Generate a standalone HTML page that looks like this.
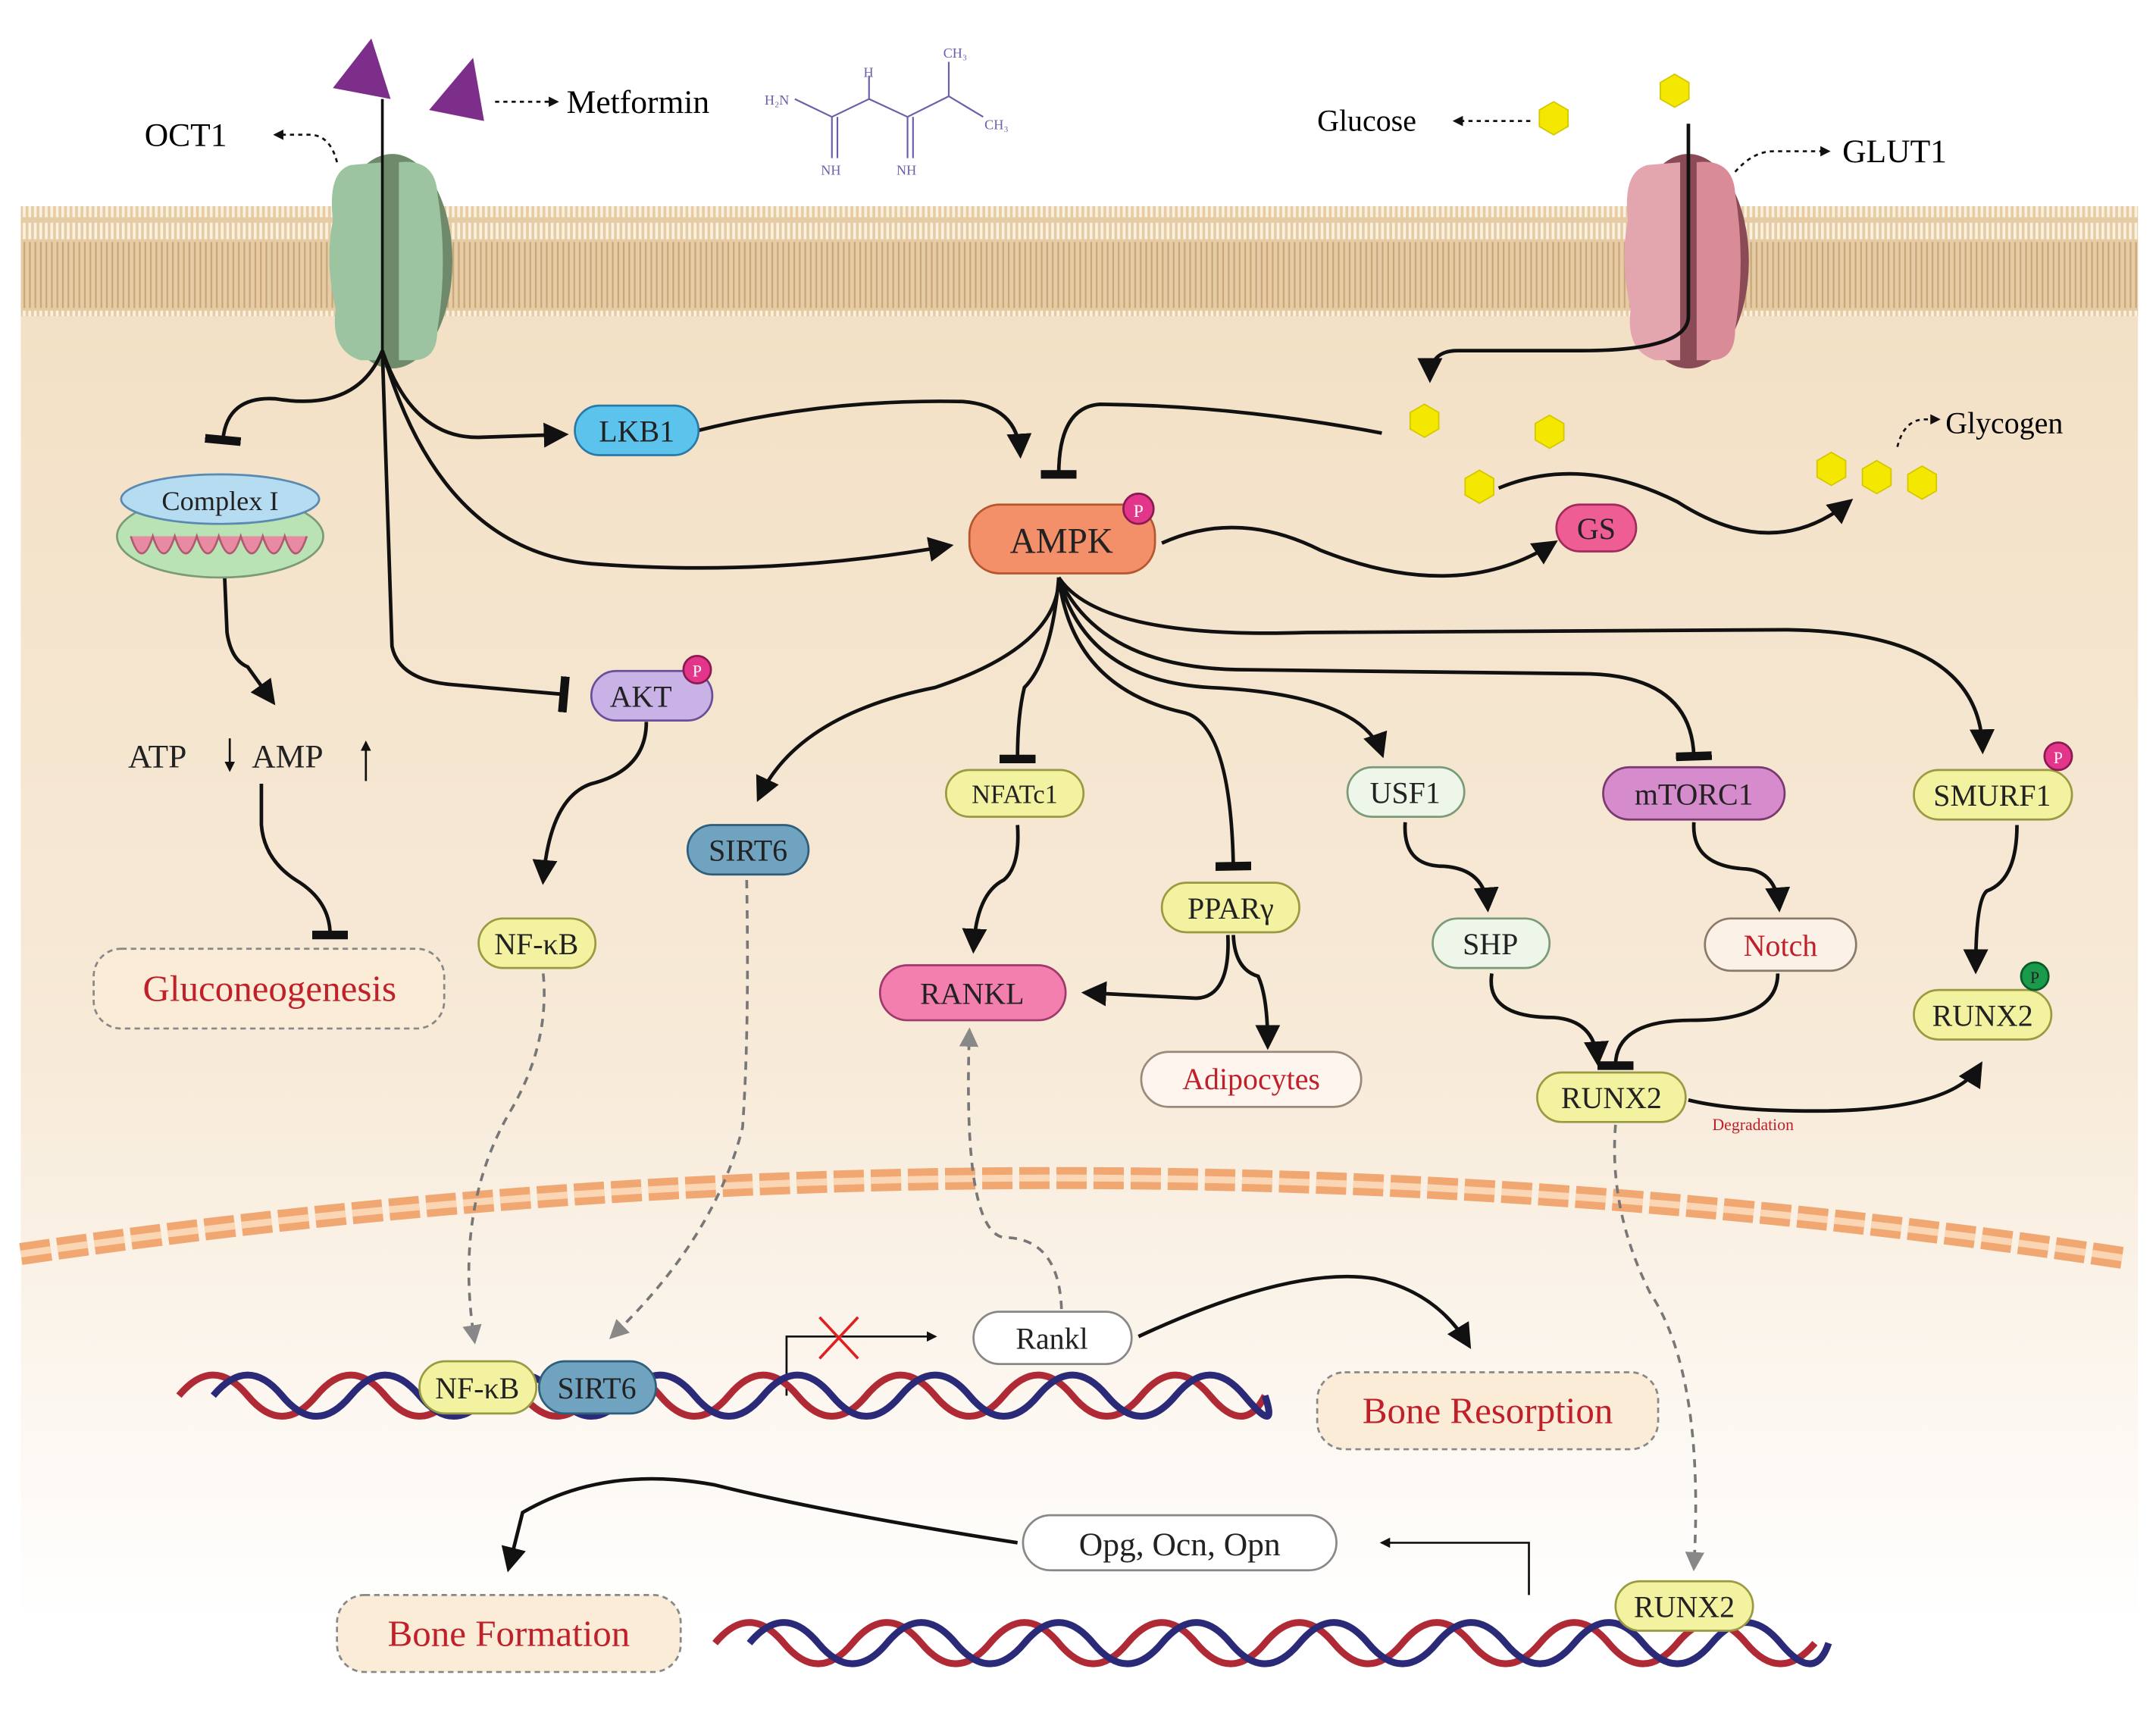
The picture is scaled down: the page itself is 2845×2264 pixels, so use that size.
<!DOCTYPE html>
<html><head><meta charset="utf-8"><style>
html,body{margin:0;padding:0;background:#fff}
svg{display:block}
text{font-family:"Liberation Serif",serif;}
</style></head><body>
<svg width="2845" height="2264" viewBox="0 0 1568 1248" xmlns="http://www.w3.org/2000/svg">
<defs>
<linearGradient id="cell" x1="0" y1="0" x2="0" y2="1">
<stop offset="0" stop-color="#f2dfc3"/><stop offset="0.6" stop-color="#f7ead8"/><stop offset="1" stop-color="#ffffff"/>
</linearGradient>
<pattern id="lip" width="4" height="80" patternUnits="userSpaceOnUse">
<rect width="4" height="80" fill="#e6cca4"/>
<rect x="0.5" y="2" width="2" height="12" fill="#fbf1e0"/>
<rect x="0.5" y="66" width="2" height="12" fill="#fbf1e0"/>
<rect x="1" y="16" width="1.2" height="48" fill="#c9a678"/>
</pattern>
<marker id="ar" viewBox="0 0 10 10" refX="8" refY="5" markerWidth="7" markerHeight="7" orient="auto"><path d="M0,0L10,5L0,10z" fill="#111"/></marker>
<marker id="ag" viewBox="0 0 10 10" refX="8" refY="5" markerWidth="7" markerHeight="7" orient="auto"><path d="M0,0L10,5L0,10z" fill="#888"/></marker>
<marker id="sm" viewBox="0 0 10 10" refX="8" refY="5" markerWidth="5" markerHeight="5" orient="auto"><path d="M0,0L10,5L0,10z" fill="#111"/></marker>
<marker id="tb" viewBox="0 0 10 10" refX="5" refY="5" markerWidth="10" markerHeight="10" orient="auto"><path d="M5,-3L5,13" stroke="#111" stroke-width="2.4"/></marker>
<polygon id="hx" points="0,-12 10.4,-6 10.4,6 0,12 -10.4,6 -10.4,-6" fill="#f5e800" stroke="#d4c800" stroke-width="1"/>
</defs>
<rect width="1568" height="1248" fill="#fff"/>
<rect x="15" y="150" width="1540" height="1030" fill="url(#cell)"/>
<rect x="15" y="150" width="1540" height="80" fill="url(#lip)"/>
<path d="M15,912 Q780,800 1545,915" fill="none" stroke="#f0a772" stroke-width="16" stroke-dasharray="22,5"/>
<path d="M15,912 Q780,800 1545,915" fill="none" stroke="#fbd6b4" stroke-width="5" stroke-dasharray="22,5"/>

<!-- OCT1 -->
<ellipse cx="285" cy="190" rx="44" ry="78" fill="#6f8a6a"/>
<path d="M255,120 Q238,125 242,160 Q236,190 244,225 Q240,255 262,262 L278,262 L278,118z" fill="#9cc4a0"/>
<path d="M290,118 Q316,115 318,140 Q326,190 318,240 Q318,262 300,262 L290,262z" fill="#9cc4a0"/>
<!-- GLUT1 -->
<ellipse cx="1228" cy="190" rx="44" ry="78" fill="#8a4a56"/>
<path d="M1198,120 Q1180,125 1184,160 Q1178,190 1186,225 Q1182,255 1204,262 L1222,262 L1222,118z" fill="#e3a5ae"/>
<path d="M1234,118 Q1260,115 1262,140 Q1270,190 1262,240 Q1262,262 1244,262 L1234,262z" fill="#d98c98"/>

<polygon points="270,28 242,64 284,72" fill="#7d2d8a"/>
<polygon points="344,42 312,80 352,88" fill="#7d2d8a"/>
<line x1="360" y1="74" x2="405" y2="74" stroke="#111" stroke-width="1.5" stroke-dasharray="3,3" marker-end="url(#sm)"/>
<text x="412" y="82" font-size="24">Metformin</text>
<g stroke="#6a5fa8" stroke-width="1.2" fill="none">
<path d="M578,72 L605,85 L632,72 L660,85 L690,70 L715,85"/><path d="M605,85 V115 M609,85 V115 M660,85 V115 M664,85 V115 M632,72 V55 M690,70 V45"/>
</g>
<g font-size="10" fill="#6a5fa8"><text x="556" y="76">H₂N</text><text x="597" y="127">NH</text><text x="652" y="127">NH</text><text x="628" y="56">H</text><text x="686" y="42">CH₃</text><text x="716" y="94">CH₃</text></g>
<text x="105" y="106" font-size="24">OCT1</text>
<path d="M245,118 Q240,98 225,98 L200,98" fill="none" stroke="#111" stroke-width="1.5" stroke-dasharray="3,3" marker-end="url(#sm)"/>
<line x1="278" y1="72" x2="278" y2="260" stroke="#111" stroke-width="2"/>

<use href="#hx" x="1130" y="86"/><use href="#hx" x="1218" y="66"/>
<use href="#hx" x="1036" y="306"/><use href="#hx" x="1127" y="314"/><use href="#hx" x="1076" y="354"/>
<use href="#hx" x="1332" y="341"/><use href="#hx" x="1365" y="347"/><use href="#hx" x="1398" y="351"/>
<text x="958" y="95" font-size="22">Glucose</text>
<line x1="1113" y1="88" x2="1058" y2="88" stroke="#111" stroke-width="1.5" stroke-dasharray="3,3" marker-end="url(#sm)"/>
<text x="1340" y="118" font-size="24">GLUT1</text>
<path d="M1262,125 Q1275,110 1290,110 L1330,110" fill="none" stroke="#111" stroke-width="1.5" stroke-dasharray="3,3" marker-end="url(#sm)"/>
<text x="1415" y="315" font-size="22">Glycogen</text>
<path d="M1380,325 Q1385,305 1400,305 L1410,305" fill="none" stroke="#111" stroke-width="1.5" stroke-dasharray="3,3" marker-end="url(#sm)"/>

<g fill="none" stroke="#111" stroke-width="2.6">
<path d="M1228,90 L1228,230 Q1228,255 1150,255 L1060,255 Q1040,255 1040,275" marker-end="url(#ar)"/>
<path d="M278,255 Q260,300 200,290 Q165,288 162,320" marker-end="url(#tb)"/>
<path d="M278,255 Q300,320 350,318 L410,316" marker-end="url(#ar)"/>
<path d="M278,255 Q320,400 430,410 Q560,420 690,397" marker-end="url(#ar)"/>
<path d="M278,255 L285,470 Q290,495 330,498 L410,505" marker-end="url(#tb)"/>
<path d="M508,313 Q600,290 700,292 Q740,295 742,330" marker-end="url(#ar)"/>
<path d="M1005,315 Q900,295 800,294 Q770,296 770,345" marker-end="url(#tb)"/>
<path d="M845,395 Q900,370 960,400 Q1060,440 1130,395" marker-end="url(#ar)"/>
<path d="M1090,355 Q1150,330 1220,365 Q1290,410 1345,365" marker-end="url(#ar)"/>
<path d="M162,390 L165,460 Q168,480 180,485 L198,510" marker-end="url(#ar)"/>
<path d="M190,570 L190,600 Q192,625 215,640 Q240,655 240,680" marker-end="url(#tb)"/>
<path d="M470,525 Q470,560 430,570 Q400,580 395,640" marker-end="url(#ar)"/>
<path d="M770,420 Q770,470 680,500 Q580,520 552,580" marker-end="url(#ar)"/>
<path d="M770,420 Q765,480 745,500 Q740,520 740,552" marker-end="url(#tb)"/>
<path d="M770,420 Q780,500 860,518 Q895,525 897,630" marker-end="url(#tb)"/>
<path d="M770,420 Q790,495 880,500 Q990,505 1005,548" marker-end="url(#ar)"/>
<path d="M770,420 Q800,485 900,487 L1150,490 Q1230,490 1232,550" marker-end="url(#tb)"/>
<path d="M770,420 Q800,465 950,460 L1300,458 Q1440,460 1442,545" marker-end="url(#ar)"/>
<path d="M740,600 Q742,630 730,640 Q710,650 708,690" marker-end="url(#ar)"/>
<path d="M893,680 Q895,725 870,726 L790,722" marker-end="url(#ar)"/>
<path d="M897,680 Q898,705 915,710 Q922,725 922,760" marker-end="url(#ar)"/>
<path d="M1022,598 Q1020,630 1050,630 Q1080,632 1082,660" marker-end="url(#ar)"/>
<path d="M1085,708 Q1080,740 1130,740 Q1160,742 1162,772" marker-end="url(#ar)"/>
<path d="M1232,598 Q1230,630 1270,632 Q1292,634 1294,660" marker-end="url(#ar)"/>
<path d="M1293,708 Q1293,742 1230,742 Q1175,742 1175,775" marker-end="url(#tb)"/>
<path d="M1467,600 Q1467,640 1445,648 Q1437,655 1437,705" marker-end="url(#ar)"/>
<path d="M1228,800 Q1260,808 1320,808 Q1420,808 1440,775" marker-end="url(#ar)"/>
<path d="M828,972 Q940,920 1000,930 Q1045,940 1068,978" marker-end="url(#ar)"/>
<path d="M740,1122 Q600,1100 520,1080 Q440,1065 380,1100 L370,1140" marker-end="url(#ar)"/>
</g>
<g fill="none" stroke="#111" stroke-width="1.5">
<path d="M1112,1160 L1112,1122 L1005,1122" marker-end="url(#sm)"/>
<path d="M572,1015 L572,972 L680,972" marker-end="url(#sm)"/>
</g>
<path d="M596,958 L624,988 M624,958 L596,988" stroke="#e02020" stroke-width="2"/>

<g fill="none" stroke="#777" stroke-width="2" stroke-dasharray="6,5">
<path d="M395,708 Q400,760 370,810 Q330,880 345,975" marker-end="url(#ag)"/>
<path d="M543,640 Q545,750 540,820 Q520,900 445,972" marker-end="url(#ag)"/>
<path d="M772,952 Q770,900 730,900 Q700,895 705,750" marker-end="url(#ag)"/>
<path d="M1175,818 Q1170,880 1200,940 Q1240,1000 1232,1140" marker-end="url(#ag)"/>
</g>

<g fill="none" stroke-width="5">
<path d="M130,1015 q25,-30 50,0 t50,0 t50,0 t50,0 t50,0 t50,0 t50,0 t50,0 t50,0 t50,0 t50,0 t50,0 t50,0 t50,0 t50,0 t40,0" stroke="#b02a36"/>
<path d="M155,1015 q25,-30 50,0 t50,0 t50,0 t50,0 t50,0 t50,0 t50,0 t50,0 t50,0 t50,0 t50,0 t50,0 t50,0 t50,0 t50,0 t15,0" stroke="#2a2a78"/>
<path d="M520,1195 q25,-30 50,0 t50,0 t50,0 t50,0 t50,0 t50,0 t50,0 t50,0 t50,0 t50,0 t50,0 t50,0 t50,0 t50,0 t50,0 t50,0" stroke="#b02a36"/>
<path d="M545,1195 q25,-30 50,0 t50,0 t50,0 t50,0 t50,0 t50,0 t50,0 t50,0 t50,0 t50,0 t50,0 t50,0 t50,0 t50,0 t50,0 t35,0" stroke="#2a2a78"/>
</g>

<g stroke-width="1.5">
<ellipse cx="160" cy="390" rx="75" ry="30" fill="#b9e3b5" stroke="#7a9a78"/>
<path d="M95,390 q8,25 16,0 q8,25 16,0 q8,25 16,0 q8,25 16,0 q8,25 16,0 q8,25 16,0 q8,25 16,0 q8,25 16,0" fill="#e88aa2" stroke="#b05a70"/>
<ellipse cx="160" cy="363" rx="72" ry="18" fill="#b6dcf2" stroke="#5a8ab0"/>
<rect x="418" y="295" width="90" height="36" rx="18" fill="#5cc3ec" stroke="#2a7aa8"/>
<rect x="705" y="367" width="135" height="50" rx="22" fill="#f3906a" stroke="#b4562e"/>
<circle cx="828" cy="370" r="11" fill="#e3358a" stroke="#8a1a50"/>
<rect x="1132" y="367" width="58" height="34" rx="17" fill="#ef5d95" stroke="#a02a5a"/>
<rect x="430" y="488" width="88" height="36" rx="18" fill="#c8b2e6" stroke="#6a4e98"/>
<circle cx="507" cy="487" r="10" fill="#e3358a" stroke="#8a1a50"/>
<rect x="500" y="600" width="88" height="36" rx="18" fill="#6fa3c0" stroke="#2e5e7a"/>
<rect x="688" y="560" width="100" height="34" rx="17" fill="#f3f2a0" stroke="#9a9a40"/>
<rect x="845" y="642" width="100" height="36" rx="18" fill="#f3f2a0" stroke="#9a9a40"/>
<rect x="980" y="558" width="85" height="36" rx="18" fill="#eef6ea" stroke="#7a9a78"/>
<rect x="1042" y="668" width="85" height="36" rx="18" fill="#eef6ea" stroke="#7a9a78"/>
<rect x="1166" y="558" width="132" height="38" rx="19" fill="#d68ccc" stroke="#7a3a70"/>
<rect x="1240" y="668" width="110" height="38" rx="19" fill="#fbf1e6" stroke="#8a7a6a"/>
<rect x="1392" y="560" width="115" height="36" rx="18" fill="#f3f2a0" stroke="#9a9a40"/>
<circle cx="1497" cy="550" r="10" fill="#e3358a" stroke="#8a1a50"/>
<rect x="1392" y="720" width="100" height="36" rx="18" fill="#f3f2a0" stroke="#9a9a40"/>
<circle cx="1480" cy="710" r="10" fill="#1a9a4a" stroke="#0a5a2a"/>
<rect x="640" y="702" width="135" height="40" rx="20" fill="#f27fae" stroke="#a03a6a"/>
<rect x="830" y="765" width="160" height="40" rx="20" fill="#fdf5ee" stroke="#9a8a7a"/>
<rect x="1118" y="780" width="108" height="36" rx="18" fill="#f3f2a0" stroke="#9a9a40"/>
<rect x="348" y="668" width="85" height="36" rx="18" fill="#f3f2a0" stroke="#9a9a40"/>
<rect x="68" y="690" width="255" height="58" rx="20" fill="#fbecd8" stroke="#888" stroke-dasharray="4,3"/>
<rect x="958" y="998" width="248" height="56" rx="20" fill="#fbecd8" stroke="#888" stroke-dasharray="4,3"/>
<rect x="245" y="1160" width="250" height="56" rx="20" fill="#fbecd8" stroke="#888" stroke-dasharray="4,3"/>
<rect x="708" y="954" width="115" height="38" rx="19" fill="#fff" stroke="#888"/>
<rect x="744" y="1102" width="228" height="40" rx="20" fill="#fff" stroke="#888"/>
<rect x="305" y="990" width="85" height="38" rx="19" fill="#f3f2a0" stroke="#9a9a40"/>
<rect x="392" y="990" width="85" height="38" rx="19" fill="#6fa3c0" stroke="#2e5e7a"/>
<rect x="1175" y="1150" width="100" height="36" rx="18" fill="#f3f2a0" stroke="#9a9a40"/>
</g>

<g font-size="22" text-anchor="middle" fill="#222">
<text x="160" y="371" font-size="20">Complex I</text>
<text x="463" y="321">LKB1</text>
<text x="772" y="402" font-size="26">AMPK</text>
<text x="828" y="376" font-size="13" fill="#fff">P</text>
<text x="1161" y="392">GS</text>
<text x="466" y="514">AKT</text>
<text x="507" y="492" font-size="12" fill="#fff">P</text>
<text x="544" y="626">SIRT6</text>
<text x="738" y="584" font-size="19">NFATc1</text>
<text x="895" y="668">PPARγ</text>
<text x="1022" y="584">USF1</text>
<text x="1084" y="694">SHP</text>
<text x="1232" y="585">mTORC1</text>
<text x="1295" y="695" fill="#c0202a">Notch</text>
<text x="1449" y="586">SMURF1</text>
<text x="1497" y="555" font-size="12" fill="#fff">P</text>
<text x="1442" y="746">RUNX2</text>
<text x="1480" y="715" font-size="12">P</text>
<text x="707" y="730">RANKL</text>
<text x="910" y="792" fill="#c0202a">Adipocytes</text>
<text x="1172" y="806">RUNX2</text>
<text x="390" y="694">NF-κB</text>
<text x="196" y="728" font-size="27" fill="#c0202a">Gluconeogenesis</text>
<text x="1082" y="1035" font-size="27" fill="#c0202a">Bone Resorption</text>
<text x="370" y="1197" font-size="27" fill="#c0202a">Bone Formation</text>
<text x="765" y="981">Rankl</text>
<text x="858" y="1131" font-size="24">Opg, Ocn, Opn</text>
<text x="347" y="1017">NF-κB</text>
<text x="434" y="1017">SIRT6</text>
<text x="1225" y="1176">RUNX2</text>
<text x="1275" y="822" font-size="12" fill="#c0202a">Degradation</text>
</g>
<g font-size="24" fill="#222">
<text x="93" y="558">ATP</text><text x="183" y="558">AMP</text>
</g>
<g stroke="#111" stroke-width="1.5">
<line x1="167" y1="537" x2="167" y2="560" marker-end="url(#sm)"/>
<line x1="266" y1="568" x2="266" y2="540" marker-end="url(#sm)"/>
</g>
</svg>
</body></html>
